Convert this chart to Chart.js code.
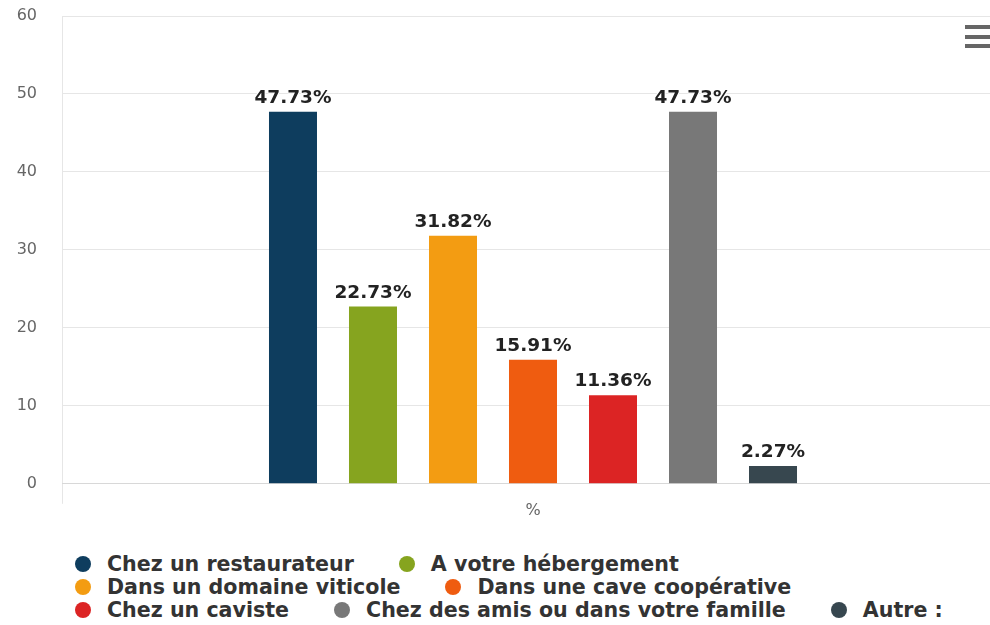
<!DOCTYPE html>
<html lang="fr">
<head>
<meta charset="utf-8">
<script src="https://cdn.jsdelivr.net/npm/chart.js@4"></script>
<style>
  html, body { margin: 0; padding: 0; background: #fff; overflow: hidden; width: 990px; height: 625px; }
  #wrap { position: absolute; left: 0; top: 0; width: 1006px; height: 517px; }
  #menu { position: absolute; left: 965px; top: 25px; width: 25px; }
  #menu span { display: block; height: 4px; background: #666; margin-bottom: 5.5px; }
  #legend {
    position: absolute; left: 75px; top: 552px; width: 900px;
    display: flex; flex-wrap: wrap; column-gap: 45px;
    font: bold 20.6px "DejaVu Sans", sans-serif; color: #333;
  }
  .item { display: flex; align-items: center; height: 23px; white-space: nowrap; }
  .dot { width: 16px; height: 16px; border-radius: 50%; margin-right: 16px; flex: none; }
</style>
</head>
<body>
<div id="wrap"><canvas id="chart"></canvas></div>
<div id="menu"><span></span><span></span><span></span></div>
<div id="legend"></div>
<script>
'use strict';

// ── 데이터 ───────────────────────────────────────────
const categories = ['%'];
const seriesNames = [
  'Chez un restaurateur',
  'A votre hébergement',
  'Dans un domaine viticole',
  'Dans une cave coopérative',
  'Chez un caviste',
  'Chez des amis ou dans votre famille',
  'Autre :'
];
const seriesValues = [47.73, 22.73, 31.82, 15.91, 11.36, 47.73, 2.27];
const seriesColors = ['#0e3d5e', '#86a41f', '#f39c12', '#ef5c10', '#dc2424', '#787878', '#37474f'];
const yTicks = { min: 0, max: 60, step: 10 };

Chart.defaults.font.family = '"DejaVu Sans", sans-serif';

// ── 값 라벨 ──────────────────────────────────────────
const valueLabels = {
  id: 'valueLabels',
  afterDatasetsDraw(chart) {
    const ctx = chart.ctx;
    ctx.save();
    ctx.font = 'bold 18.5px "DejaVu Sans", sans-serif';
    ctx.textAlign = 'center';
    ctx.textBaseline = 'alphabetic';
    ctx.lineJoin = 'round';
    chart.data.datasets.forEach((ds, i) => {
      chart.getDatasetMeta(i).data.forEach((bar, j) => {
        const txt = ds.data[j].toFixed(2) + '%';
        ctx.lineWidth = 2;
        ctx.strokeStyle = '#fff';
        ctx.strokeText(txt, bar.x, bar.y - 9);
        ctx.fillStyle = '#222';
        ctx.fillText(txt, bar.x, bar.y - 9);
      });
    });
    ctx.restore();
  }
};

new Chart(document.getElementById('chart'), {
  type: 'bar',
  data: {
    labels: categories,
    datasets: seriesNames.map((name, i) => ({
      label: name,
      data: [seriesValues[i]],
      backgroundColor: seriesColors[i],
      borderWidth: 0
    }))
  },
  options: {
    responsive: true,
    maintainAspectRatio: false,
    animation: false,
    layout: { padding: { left: 16, top: 16, right: 2, bottom: 0 } },
    datasets: { bar: { categoryPercentage: 0.5945, barPercentage: 0.6 } },
    plugins: { legend: { display: false }, tooltip: { enabled: false } },
    scales: {
      x: {
        grid: { color: '#e6e6e6', tickLength: 20 },
        border: { color: '#d8d8d8' },
        ticks: { color: '#666', font: { size: 16 }, padding: -3 }
      },
      y: {
        min: yTicks.min,
        max: yTicks.max,
        ticks: { stepSize: yTicks.step, color: '#666', font: { size: 16 }, padding: 25 },
        grid: { color: '#e6e6e6', drawTicks: false },
        border: { display: false },
        afterFit(scale) {
          scale.width = 46;
          scale.paddingTop = 0;
          scale.paddingBottom = 0;
        }
      }
    }
  },
  plugins: [valueLabels]
});

// ── 범례 ─────────────────────────────────────────────
const legend = document.getElementById('legend');
seriesNames.forEach((name, i) => {
  const item = document.createElement('div');
  item.className = 'item';
  item.innerHTML = `<span class="dot" style="background:${seriesColors[i]}"></span>${name}`;
  legend.appendChild(item);
});
</script>
</body>
</html>
